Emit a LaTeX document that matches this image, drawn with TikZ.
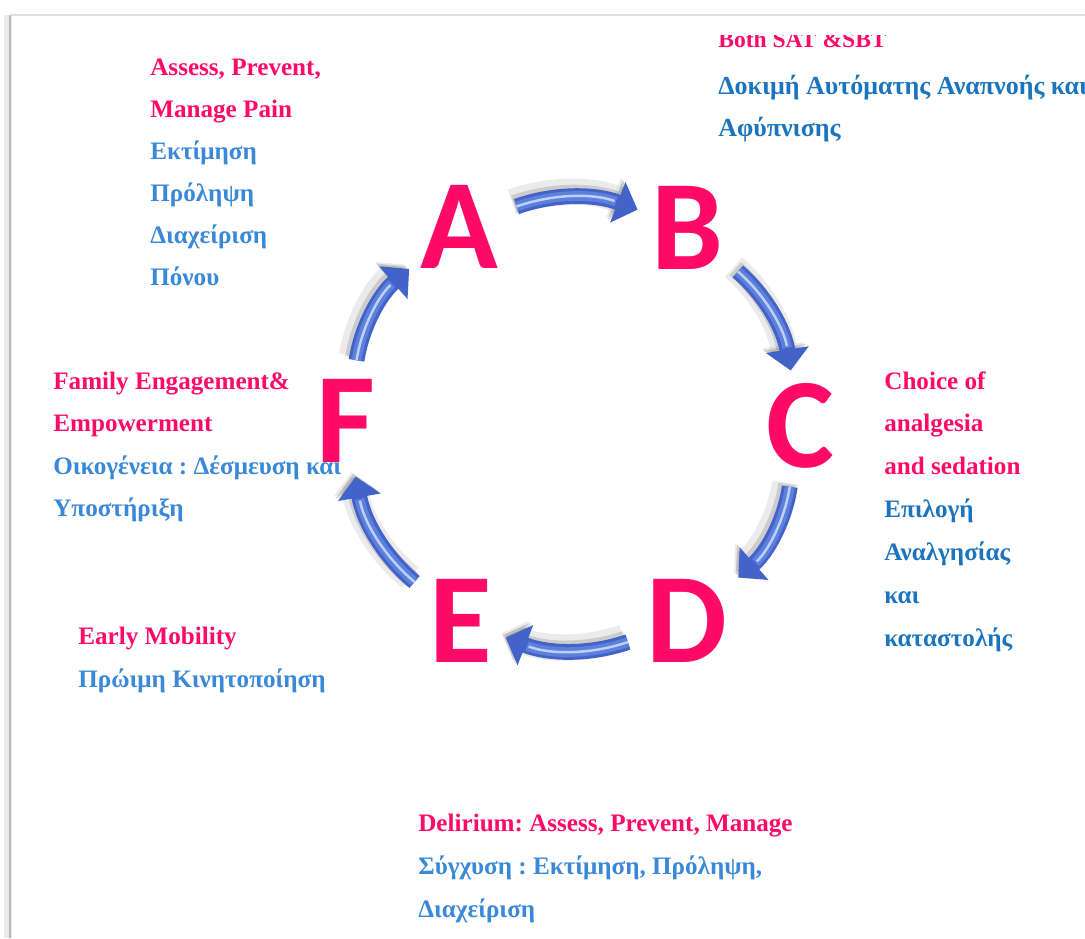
\documentclass[tikz,border=0pt]{standalone}
\usepackage{fontspec}
\setmainfont{Liberation Serif}
\newfontfamily\capsfont{Carlito}
\usetikzlibrary{arrows.meta}
\definecolor{accent}{HTML}{FF0A68}
\definecolor{greeklt}{HTML}{3A88D8}
\definecolor{greekdk}{HTML}{1B75BE}
\definecolor{arrowblue}{HTML}{4463C8}
\definecolor{arrowmid}{HTML}{5C80DC}
\definecolor{arrowhi}{HTML}{BCD0F8}
\frenchspacing
\tikzset{
  phase/.style={font=\capsfont\bfseries\fontsize{73}{73}\selectfont, text=accent,
                inner sep=0pt, text height=47pt, text depth=0pt},
  note/.style={anchor=north west, inner sep=0pt, align=left, text=accent,
               font=\bfseries\fontsize{14.3}{#1}\selectfont},
  note/.default=24.4pt,
  flow/.style={draw=arrowblue, line width=9pt, -{Triangle[width=24pt,length=12pt]},
               shorten <=11pt, shorten >=8pt,
               preaction={draw=black, opacity=0.08, line width=15pt,
                          transform canvas={shift={(-2.5pt,2.5pt)}}},
               preaction={draw=black, opacity=0.13, line width=10pt,
                          transform canvas={shift={(-1.5pt,1.5pt)}}},
               postaction={draw=arrowmid, -, line width=5.5pt, shorten >=21pt},
               postaction={draw=arrowhi, -, line width=1.4pt, shorten >=22pt}},
}

\begin{document}
\begin{tikzpicture}[x=0.02cm, y=-0.02cm]
  \clip (0,0) rectangle (1085,938);
  \fill[white] (0,0) rectangle (1085,938);
  % page edge
  \draw[black!8, line width=4pt] (8,15) -- (8,938);
  \draw[black!28, line width=1.4pt] (10,15) -- (10,938);
  \draw[black!12, line width=1.6pt] (10,15) -- (1085,15);

  % the six steps
  \node[phase] (A) at (459,227) {A};
  \node[phase] (B) at (687,228) {B};
  \node[phase] (C) at (800,426) {C};
  \node[phase] (D) at (687,621) {D};
  \node[phase] (E) at (461,621) {E};
  \node[phase] (F) at (346,421) {F};

  \draw[flow] (A) to[bend left=20] (B);
  \draw[flow] (B) to[bend left=20] (C);
  \draw[flow] (C) to[bend left=20] (D);
  \draw[flow] (D) to[bend left=20] (E);
  \draw[flow] (E) to[bend left=20] (F);
  \draw[flow] (F) to[bend left=20] (A);

  % notes round the cycle
  \node[note=23.9pt] (pain) at (150,59)
    {Assess, Prevent,\\Manage Pain\\
     \textcolor{greeklt}{Εκτίμηση}\\\textcolor{greeklt}{Πρόληψη}\\
     \textcolor{greeklt}{Διαχείριση}\\\textcolor{greeklt}{Πόνου}};
  \begin{scope}
    \clip (700,35) rectangle (1085,160);
    \node[note=23.9pt] (sat) at (718,31)
      {\fontsize{13.4}{23.9}\selectfont Both SAT \&SBT\\[2.5pt]
       \textcolor{greekdk}{\fontsize{14.8}{23.9}\selectfont Δοκιμή Αυτόματης Αναπνοής και}\\
       \textcolor{greekdk}{\fontsize{14.8}{23.9}\selectfont Αφύπνισης}};
  \end{scope}
  \node[note] (sedation) at (884,371)
    {Choice of\\analgesia\\and sedation\\
     \textcolor{greekdk}{Επιλογή}\\\textcolor{greekdk}{Αναλγησίας}\\
     \textcolor{greekdk}{και}\\\textcolor{greekdk}{καταστολής}};
  \node[note=24.4pt] (delirium) at (418,814)
    {Delirium: Assess, Prevent, Manage\\
     \textcolor{greeklt}{Σύγχυση : Εκτίμηση, Πρόληψη,}\\
     \textcolor{greeklt}{Διαχείριση}};
  \node[note=24.4pt] (mobility) at (78,627)
    {Early Mobility\\\textcolor{greeklt}{Πρώιμη Κινητοποίηση}};
  \node[note=24pt] (family) at (53,372)
    {Family Engagement\&\\Empowerment\\
     \textcolor{greeklt}{Οικογένεια : Δέσμευση και}\\
     \textcolor{greeklt}{Υποστήριξη}};
\end{tikzpicture}
\end{document}
